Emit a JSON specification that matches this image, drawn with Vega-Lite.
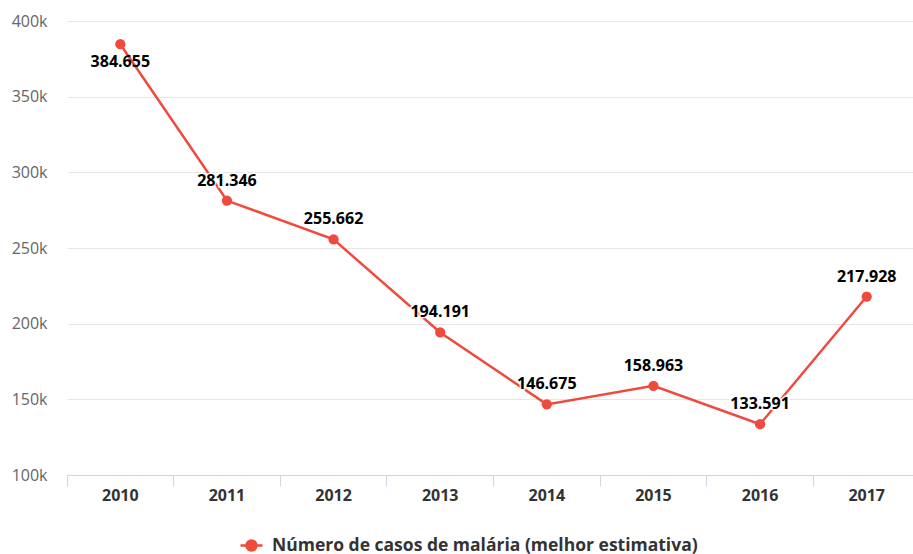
{
  "$schema": "https://vega.github.io/schema/vega-lite/v6.json",
  "autosize": {"type": "none"},
  "width": 853,
  "height": 454,
  "padding": {"left": 67, "top": 21, "right": 0, "bottom": 79},
  "background": "white",
  "config": {
    "view": {"stroke": null},
    "font": "Open Sans",
    "locale": {"number": {"decimal": ",", "thousands": ".", "grouping": [3], "currency": ["", ""]}}
  },
  "data": {"values": [
    {"ano": "2010", "casos": 384655},
    {"ano": "2011", "casos": 281346},
    {"ano": "2012", "casos": 255662},
    {"ano": "2013", "casos": 194191},
    {"ano": "2014", "casos": 146675},
    {"ano": "2015", "casos": 158963},
    {"ano": "2016", "casos": 133591},
    {"ano": "2017", "casos": 217928}
  ]},
  "resolve": {"axis": {"x": "independent"}},
  "layer": [
    {
      "mark": {"type": "line", "strokeWidth": 2.5, "point": {"size": 105, "filled": true, "opacity": 1}},
      "encoding": {
        "x": {"field": "ano", "type": "ordinal", "scale": {"type": "band", "paddingInner": 0, "paddingOuter": 0},
          "axis": {"orient": "bottom", "title": null, "domain": false, "ticks": false, "labelAngle": 0, "labelFontSize": 16, "labelFontWeight": "bold", "labelColor": "#333333", "labelPadding": 12}},
        "y": {"field": "casos", "type": "quantitative", "scale": {"domain": [100000, 400000], "nice": false, "zero": false},
          "axis": {"title": null, "values": [100000, 150000, 200000, 250000, 300000, 350000, 400000], "format": "~s", "domain": false, "ticks": false, "gridColor": "#e6e6e6", "labelColor": "#666666", "labelFontSize": 16, "labelPadding": 20}},
        "color": {"datum": "Número de casos de malária (melhor estimativa)", "type": "nominal",
          "scale": {"range": ["#f04a3e"]},
          "legend": {"title": null, "orient": "none", "legendX": 172, "legendY": 512,
            "symbolType": "M-1,0H1M0.45,0A0.45,0.45 0 1,1 -0.45,0A0.45,0.45 0 1,1 0.45,0",
            "symbolSize": 484, "symbolStrokeWidth": 2.5, "symbolFillColor": "#f04a3e", "symbolStrokeColor": "#f04a3e",
            "labelFontSize": 17.5, "labelFontWeight": "bold", "labelColor": "#333333", "labelLimit": 700, "labelOffset": 8}}
      }
    },
    {
      "transform": [{"filter": "datum.ano != '2010'"}],
      "mark": {"type": "text", "dy": -20, "fontSize": 16, "fontWeight": "bold", "color": "#000000", "stroke": "white", "strokeWidth": 3, "strokeOpacity": 0.9},
      "encoding": {
        "x": {"field": "ano", "type": "ordinal",
          "axis": {"orient": "bottom", "title": null, "labels": false, "bandPosition": 0, "tickSize": 11, "tickColor": "#ccd6eb", "domainColor": "#ccd6eb", "grid": false}},
        "y": {"field": "casos", "type": "quantitative"},
        "text": {"field": "casos", "type": "quantitative", "format": ",d"}
      }
    },
    {
      "transform": [{"filter": "datum.ano != '2010'"}],
      "mark": {"type": "text", "dy": -20, "fontSize": 16, "fontWeight": "bold", "color": "#000000"},
      "encoding": {
        "x": {"field": "ano", "type": "ordinal", "axis": null},
        "y": {"field": "casos", "type": "quantitative"},
        "text": {"field": "casos", "type": "quantitative", "format": ",d"}
      }
    },
    {
      "transform": [{"filter": "datum.ano == '2010'"}],
      "mark": {"type": "text", "dy": 18, "fontSize": 16, "fontWeight": "bold", "color": "#000000"},
      "encoding": {
        "x": {"field": "ano", "type": "ordinal", "axis": null},
        "y": {"field": "casos", "type": "quantitative"},
        "text": {"field": "casos", "type": "quantitative", "format": ",d"}
      }
    }
  ]
}
